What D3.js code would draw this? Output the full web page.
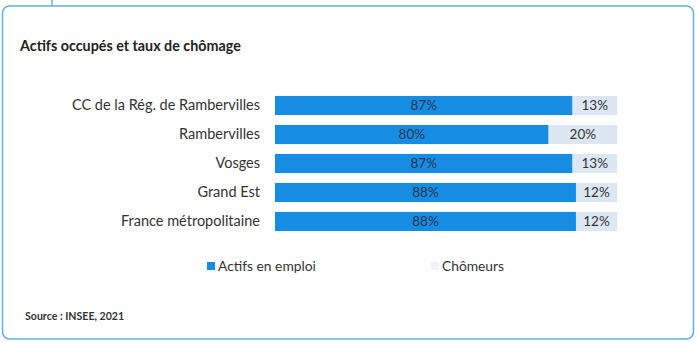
<!DOCTYPE html>
<html><head><meta charset="utf-8">
<script src="https://cdn.jsdelivr.net/npm/d3@7"></script>
<style>body{margin:0;background:#fff;} svg{display:block;}</style>
</head><body>
<script>
const categories = ["CC de la Rég. de Rambervilles","Rambervilles","Vosges","Grand Est","France métropolitaine"];
const actifs = [87, 80, 87, 88, 88];
const chomeurs = [13, 20, 13, 12, 12];
const seriesNames = ["Actifs en emploi","Chômeurs"];
const colors = ["#168de2","#dde7f3"];
const title = "Actifs occupés et taux de chômage";
const source = "Source : INSEE, 2021";

const W = 697, H = 342;
const svg = d3.select("body").append("svg").attr("width", W).attr("height", H);
const font = "Lato, 'Open Sans', sans-serif";

// card
svg.append("line").attr("x1",52).attr("x2",52).attr("y1",0).attr("y2",6).attr("stroke","#5fb0e2").attr("stroke-width",1.5);
svg.append("rect").attr("x",2.5).attr("y",6).attr("width",691).attr("height",333).attr("rx",7)
  .attr("fill","#fff").attr("stroke","#5fb0e2").attr("stroke-width",1.5);

svg.append("text").attr("x",20).attr("y",51).text(title)
  .attr("font-family",font).attr("font-weight","bold").attr("font-size",14.3).attr("fill","#222");

const x = d3.scaleLinear().domain([0,100]).range([275,617]);
const y = d3.scaleBand().domain(categories).range([94.5,232.5]).paddingInner(0.34).paddingOuter(0.05);

const stack = categories.map((c,i)=>({cat:c, a:actifs[i], c:chomeurs[i]}));

const g = svg.append("g");
g.selectAll("rect.a").data(stack).join("rect").attr("class","a")
  .attr("x",x(0)).attr("y",d=>y(d.cat)).attr("width",d=>x(d.a)-x(0)).attr("height",y.bandwidth()).attr("fill",colors[0]);
g.selectAll("rect.c").data(stack).join("rect").attr("class","c")
  .attr("x",d=>x(d.a)).attr("y",d=>y(d.cat)).attr("width",d=>x(d.a+d.c)-x(d.a)).attr("height",y.bandwidth()).attr("fill",colors[1]);

g.selectAll("text.la").data(stack).join("text").attr("class","la")
  .attr("x",d=>(x(0)+x(d.a))/2).attr("y",d=>y(d.cat)+y.bandwidth()/2).attr("dy","0.35em")
  .attr("text-anchor","middle").attr("font-family",font).attr("font-size",13.5).attr("fill","#2a3550")
  .text(d=>d.a+"%");
g.selectAll("text.lc").data(stack).join("text").attr("class","lc")
  .attr("x",d=>(x(d.a)+x(d.a+d.c))/2).attr("y",d=>y(d.cat)+y.bandwidth()/2).attr("dy","0.35em")
  .attr("text-anchor","middle").attr("font-family",font).attr("font-size",13.5).attr("fill","#333")
  .text(d=>d.c+"%");

const yAxis = d3.axisLeft(y).tickSize(0).tickPadding(15);
const ax = svg.append("g").attr("transform",`translate(${x(0)},0)`).call(yAxis);
ax.select(".domain").remove();
ax.selectAll("text").attr("font-family",font).attr("font-size",14.5).attr("fill","#333");

// legend
const leg = [{n:seriesNames[0],c:colors[0],x:207},{n:seriesNames[1],c:"#f0f4f9",x:431}];
const lg = svg.selectAll("g.leg").data(leg).join("g").attr("class","leg").attr("transform",d=>`translate(${d.x},266)`);
lg.append("rect").attr("x",0).attr("y",-4).attr("width",8).attr("height",8).attr("fill",d=>d.c);
lg.append("text").attr("x",11).attr("y",0).attr("dy","0.35em").text(d=>d.n)
  .attr("font-family",font).attr("font-size",13.8).attr("fill","#333");

svg.append("text").attr("x",25).attr("y",320).text(source)
  .attr("font-family",font).attr("font-weight","bold").attr("font-size",10.6).attr("fill","#333");
</script>
</body></html>
